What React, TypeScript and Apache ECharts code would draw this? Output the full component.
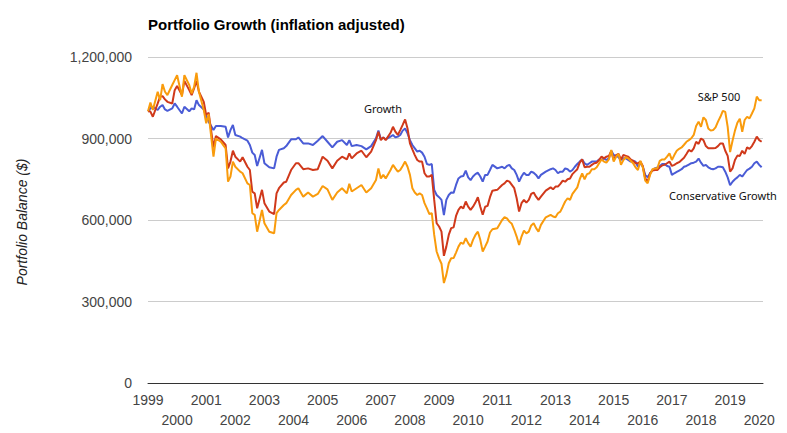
import { useEffect, useRef } from "react";
import * as echarts from "echarts";

// months since January 1999
const monthIndex = [
  0, 1, 2, 4, 5, 6, 7, 8, 10, 11, 12, 14, 15, 17, 18, 19, 20, 21, 23, 24, 25, 27, 28, 30, 32, 33, 34, 35, 36, 38, 39, 41, 42, 43, 44, 45, 47, 48, 50, 52, 53, 54, 56, 57, 59, 61,
  62, 64, 66, 68, 70, 72, 74, 76, 78, 80, 82, 83, 84, 86, 88, 90, 92, 94, 95, 96, 97, 98, 100, 101, 102, 103, 104, 105, 106, 107, 108, 109, 110, 111, 112, 113, 114, 115, 116, 117, 118, 119, 120, 121, 122, 123, 124, 125,
  126, 127, 128, 129, 130, 131, 132, 133, 134, 135, 136, 137, 138, 139, 140, 141, 142, 144, 146, 147, 148, 149, 150, 151, 152, 153, 154, 155, 156, 157, 158, 159, 160, 161, 162, 164,
  166, 167, 168, 169, 170, 171, 172, 173, 174, 175, 176, 177, 178, 179, 180, 181, 182, 183, 184, 185, 186, 187, 188, 189, 190,
  191, 192, 193, 194, 195, 196, 197, 198, 199, 200, 201, 202, 203, 204, 205, 206, 207, 208, 209, 210, 211, 212, 213, 214, 215, 216, 217, 218, 219, 220,
  221, 222, 223, 224, 225, 226, 227, 228, 229, 230, 231, 232, 233, 234, 235, 236, 237, 238, 239, 240, 241, 242, 243, 244, 245, 246, 247, 248, 249, 250, 251, 252, 253,
];

// portfolio balances, thousands of dollars
const conservativeGrowth = [
  1000, 1011, 1017, 1005, 1017, 1023, 1007, 1002, 1011, 1029, 1017, 992, 1017, 1000, 1011, 1007, 1041, 1023, 1007, 980, 962, 931, 946, 946, 943, 904, 931, 950, 913, 907, 901, 892, 876, 848, 839, 799, 858, 809, 794, 790, 833, 858, 864, 872, 897, 897,
  904, 882, 882, 876, 892, 909, 888, 867, 888, 894, 876, 894, 872, 876, 872, 860, 872, 901, 929, 897, 904, 897, 907, 913, 904, 907, 913, 929, 937, 919, 894, 876, 864, 852, 855, 848, 833, 806, 803, 806, 711, 692, 684, 674, 618, 674, 692, 701,
  700, 729, 753, 760, 762, 782, 757, 747, 760, 769, 774, 760, 741, 766, 766, 784, 803, 790, 796, 790, 799, 803, 790, 784, 766, 741, 760, 774, 766, 766, 778, 774, 766, 753, 766, 778,
  787, 790, 784, 772, 778, 778, 790, 787, 778, 784, 796, 806, 815, 823, 809, 803, 809, 815, 815, 815, 823, 821, 827, 821, 827,
  855, 839, 836, 831, 821, 827, 827, 821, 815, 818, 815, 796, 809, 796, 766, 757, 772, 784, 790, 794, 799, 806, 806, 799, 796, 766, 772, 777, 782, 787,
  796, 799, 804, 809, 811, 815, 826, 811, 799, 803, 794, 789, 787, 790, 796, 796, 794, 778, 757, 728, 741, 750, 757, 766, 760, 772, 784, 789, 796, 809, 815, 803, 794,
];

const growth = [
  1000, 999, 980, 1029, 1054, 1056, 1044, 1035, 1029, 1078, 1093, 1060, 1112, 1078, 1060, 1084, 1112, 1072, 1035, 986, 995, 867, 909, 897, 876, 790, 815, 855, 833, 815, 831, 796, 784, 704, 698, 643, 711, 662, 631, 622, 698, 717, 738, 741, 784, 809,
  809, 787, 790, 784, 787, 833, 818, 790, 818, 833, 823, 845, 827, 845, 855, 831, 852, 894, 925, 894, 904, 894, 921, 943, 925, 913, 931, 950, 970, 937, 882, 860, 839, 821, 815, 815, 772, 760, 760, 766, 674, 588, 576, 557, 468, 502, 545, 570,
  573, 615, 637, 649, 643, 668, 649, 637, 649, 664, 684, 649, 619, 649, 652, 684, 708, 711, 729, 735, 745, 741, 729, 717, 680, 631, 662, 674, 664, 674, 696, 701, 686, 674, 686, 708,
  720, 713, 723, 723, 733, 745, 741, 750, 753, 769, 778, 787, 811, 823, 794, 796, 796, 803, 809, 811, 821, 833, 827, 833, 836,
  852, 821, 839, 843, 823, 839, 836, 833, 823, 818, 809, 809, 815, 799, 753, 741, 772, 782, 784, 784, 794, 801, 803, 809, 815, 799, 803, 809, 813, 821,
  829, 843, 858, 852, 864, 888, 880, 900, 894, 872, 864, 864, 864, 865, 872, 882, 882, 855, 836, 778, 790, 821, 837, 836, 855, 843, 867, 862, 872, 888, 907, 894, 888,
];

const sp500 = [
  1000, 1032, 1005, 1072, 1041, 1100, 1072, 1060, 1097, 1115, 1133, 1054, 1133, 1097, 1066, 1090, 1142, 1072, 1005, 956, 990, 833, 900, 888, 864, 741, 760, 815, 796, 778, 772, 735, 729, 625, 619, 557, 637, 588, 557, 551, 625, 637, 655, 662, 692, 711,
  717, 686, 701, 686, 696, 725, 713, 674, 701, 717, 698, 733, 705, 717, 729, 701, 717, 747, 790, 753, 766, 753, 784, 803, 790, 778, 784, 799, 815, 796, 766, 717, 701, 692, 698, 692, 662, 643, 622, 625, 545, 484, 459, 439, 368, 398, 441, 459,
  460, 480, 502, 517, 512, 533, 515, 502, 527, 545, 557, 527, 484, 502, 521, 554, 566, 570, 600, 610, 606, 594, 586, 564, 539, 508, 539, 561, 551, 557, 580, 588, 570, 557, 582, 610,
  619, 613, 610, 625, 631, 649, 668, 680, 674, 696, 708, 720, 750, 772, 750, 769, 772, 787, 787, 794, 809, 823, 815, 811, 823,
  858, 815, 833, 843, 803, 821, 831, 827, 818, 809, 794, 784, 818, 794, 745, 735, 766, 787, 790, 790, 818, 823, 823, 833, 845, 821, 839, 855, 862, 867,
  877, 888, 894, 901, 913, 946, 962, 943, 978, 968, 937, 929, 931, 941, 962, 980, 1002, 998, 943, 850, 892, 929, 958, 973, 925, 968, 980, 974, 992, 1011, 1054, 1041, 1041,
];

const seriesNames = ["Conservative Growth", "Growth", "S&P 500"];
const seriesColors = ["#4a5cd6", "#d0391b", "#f99b0c"];

const FONT = "'Liberation Sans', Arial, sans-serif";

function withCommas(v: number): string {
  return String(Math.round(v)).replace(/\B(?=(\d{3})+(?!\d))/g, ",");
}

export default function App() {
  const ref = useRef<HTMLDivElement>(null);

  useEffect(() => {
    if (!ref.current) return;
    const chart = echarts.init(ref.current, null, { renderer: "svg" });
    const toPairs = (vals: number[]) =>
      monthIndex.map((m, i) => [1999 + m / 12, vals[i] * 1000]);
    const allValues = [conservativeGrowth, growth, sp500];

    const annotation = (text: string, x: number, y: number) => ({
      type: "text",
      x,
      y,
      silent: true,
      style: {
        text,
        x: 0,
        y: 0,
        fill: "#111",
        font: "11px 'Noto Sans', sans-serif",
        align: "center",
        verticalAlign: "middle",
        textAlign: "center",
        textVerticalAlign: "middle",
      },
    });

    // one year axis per label row: odd years on the upper row, even years below
    const yearAxis = (parity: number, margin: number, showLine: boolean) => ({
      type: "value",
      position: "bottom",
      min: 1999,
      max: 2020.13,
      interval: 1,
      axisLine: { show: showLine, lineStyle: { color: "#333", width: 1 } },
      axisTick: { show: false },
      splitLine: { show: false },
      axisLabel: {
        showMinLabel: true,
        showMaxLabel: false,
        color: "#444",
        fontFamily: FONT,
        fontSize: 14,
        margin,
        formatter: (v: number) => {
          if (Math.abs(v - Math.round(v)) > 1e-6) return "";
          const yr = Math.round(v);
          return Math.abs(yr % 2) === parity ? String(yr) : "";
        },
      },
    });

    chart.setOption({
      animation: false,
      title: {
        text: "Portfolio Growth (inflation adjusted)",
        left: 148,
        top: 17,
        padding: 0,
        textStyle: { fontFamily: FONT, fontSize: 15, fontWeight: "bold", color: "#000" },
      },
      grid: { left: 148, right: 24, top: 57, bottom: 50, containLabel: false, outerBoundsMode: "none" },
      xAxis: [yearAxis(1, 10, true), yearAxis(0, 29.5, false)],
      yAxis: {
        type: "value",
        min: 0,
        max: 1200000,
        interval: 300000,
        axisLine: { show: false },
        axisTick: { show: false },
        splitLine: { show: true, lineStyle: { color: "#cccccc", width: 1 } },
        axisLabel: {
          color: "#444",
          fontFamily: FONT,
          fontSize: 14,
          margin: 16,
          formatter: (v: number) => withCommas(v),
        },
      },
      series: seriesNames.map((name, i) => ({
        name,
        type: "line",
        xAxisIndex: 0,
        data: toPairs(allValues[i]),
        showSymbol: false,
        symbol: "none",
        lineStyle: { color: seriesColors[i], width: 2 },
        itemStyle: { color: seriesColors[i] },
        z: 2 + i,
      })),
      graphic: [
        {
          type: "text",
          x: 22,
          y: 222,
          rotation: Math.PI / 2,
          silent: true,
          style: {
            text: "Portfolio Balance ($)",
            x: 0,
            y: 0,
            fill: "#222",
            font: `italic 14px ${FONT}`,
            align: "center",
            verticalAlign: "middle",
            textAlign: "center",
            textVerticalAlign: "middle",
          },
        },
        annotation("Growth", 383, 108),
        annotation("S&P 500", 719, 96),
        annotation("Conservative Growth", 723, 195),
      ],
    });

    return () => chart.dispose();
  }, []);

  return (
    <div
      ref={ref}
      style={{ position: "absolute", left: 0, top: 0, width: 787, height: 433 }}
    />
  );
}
